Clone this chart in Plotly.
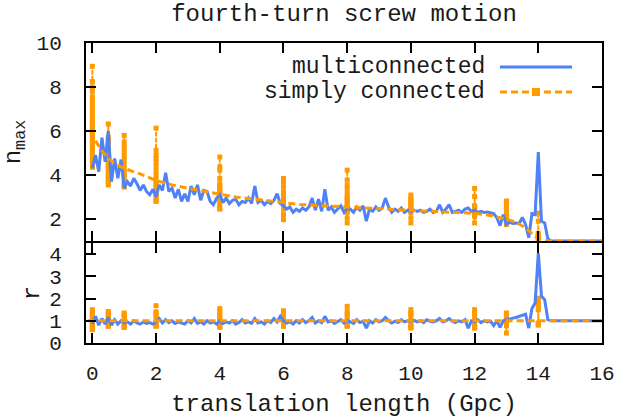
import plotly.graph_objects as go

# ---------------- data ----------------
# multiconnected: x grid (Gpc) and values
multi_x = [round(i * 0.1, 1) for i in range(145)] + [16.0]
multi_nmax = [
    4.3, 4.9, 4.15, 5.7, 4.6, 6.0, 3.7, 4.75, 3.85, 4.7,
    3.4, 3.7, 3.5, 3.85, 3.6, 3.3, 3.55, 3.25, 3.1, 3.35,
    3.0, 3.55, 3.3, 4.1, 3.25, 3.4, 2.95, 3.35, 2.8, 3.15,
    2.8, 3.5, 3.1, 3.55, 2.85, 3.3, 3.25, 2.8, 2.65, 2.95,
    3.1, 2.75, 2.95, 2.7, 2.85, 2.9, 2.65, 2.8, 2.75, 2.95,
    2.7, 3.5, 2.75, 2.85, 2.65, 2.8, 2.7, 2.85, 3.15, 2.7,
    2.6, 2.45, 2.55, 2.3, 2.45, 2.35, 2.5, 2.4, 2.55, 2.95,
    2.4, 2.9, 2.35, 3.35, 2.4, 2.55, 2.3, 2.45, 2.6, 2.3,
    2.5, 2.45, 2.3, 2.55, 2.4, 2.6, 1.9, 2.45, 2.35, 2.55,
    2.4, 2.5, 2.95, 2.55, 2.3, 2.45, 2.35, 2.5, 2.3, 2.4,
    2.35, 2.4, 2.35, 2.4, 2.3, 2.35, 2.45, 2.3, 2.35, 2.65,
    2.3, 2.45, 2.65, 2.3, 2.35, 2.4, 2.3, 2.45, 2.5, 2.35,
    2.4, 2.3, 2.35, 2.3, 2.32, 2.3, 2.25, 2.05, 1.7, 2.2,
    1.75, 1.85, 1.8, 1.82, 1.8, 2.07, 1.75, 1.15, 2.25, 2.2,
    5.04, 1.9, 1.82, 1.1, 1.0,
    1.0,
]
multi_r = [
    0.85, 1.2, 0.8, 1.1, 0.85, 1.15, 0.8, 1.05, 0.85, 1.0,
    0.9, 0.95, 0.85, 1.0, 0.9, 0.85, 0.95, 0.88, 0.92, 0.85,
    0.95, 1.1, 0.9, 1.05, 0.92, 1.0, 0.88, 0.95, 0.9, 0.85,
    1.0, 0.9, 1.1, 0.88, 0.95, 0.85, 1.0, 0.9, 0.95, 0.85,
    1.0, 0.88, 0.95, 0.9, 1.0, 0.85, 0.92, 1.05, 0.9, 0.95,
    0.88, 1.1, 0.9, 0.95, 0.85, 1.0, 0.92, 1.1, 0.95, 1.2,
    1.0, 0.9, 0.95, 0.85, 1.0, 0.9, 1.05, 0.92, 1.0, 1.15,
    0.9, 1.0, 0.92, 1.2, 0.95, 1.0, 0.88, 0.95, 1.05, 0.9,
    1.0, 0.95, 0.88, 1.05, 0.92, 0.98, 0.67, 1.0, 0.9, 1.05,
    0.95, 1.0, 1.15, 1.0, 0.9, 0.98, 0.92, 1.05, 0.95, 1.0,
    0.98, 1.02, 0.95, 1.0, 0.92, 1.05, 0.98, 0.95, 1.0, 1.1,
    0.95, 1.0, 1.1, 0.98, 0.92, 1.0, 0.95, 1.05, 0.67, 1.0,
    0.95, 1.05, 0.92, 1.0, 0.95, 0.98, 0.78, 1.0, 0.7, 1.0,
    1.05, 1.1, 1.12, 1.15, 1.2, 1.25, 1.3, 0.67, 1.55, 1.8,
    4.05, 2.1, 1.95, 1.05, 1.0,
    1.0,
]

# simply connected: mean curve
simple_curve_x = [0.1, 0.3, 0.5, 0.8, 1.0, 1.5, 2.0, 2.5, 3.0, 3.5, 4.0, 4.5, 5.0, 5.5,
                  6.0, 6.5, 7.0, 7.5, 8.0, 8.5, 9.0, 9.5, 10.0, 10.5, 11.0, 11.5,
                  12.0, 12.5, 13.0, 13.3, 13.6, 13.8, 14.0, 14.3, 16.0]
simple_curve_nmax = [5.55, 5.1, 4.75, 4.45, 4.3, 4.05, 3.75, 3.55, 3.4, 3.27, 3.12, 3.0, 2.92, 2.83,
                     2.72, 2.66, 2.62, 2.58, 2.55, 2.5, 2.46, 2.43, 2.39, 2.36, 2.32, 2.3,
                     2.26, 2.16, 2.0, 1.85, 1.6, 1.35, 1.1, 1.0, 1.0]
simple_curve_r_x = [-0.15, 16.0]
simple_curve_r = [1.0, 1.0]

# simply connected: individual samples at selected translation lengths
sample_x = [0.0, 0.5, 1.0, 2.0, 4.0, 6.0, 8.0, 10.0, 12.0, 13.0, 14.0]
sample_nmax = [
    [6.1, 7.4, 5.5, 8.0, 6.3, 4.7, 6.85, 5.2, 7.8, 6.0, 4.35, 6.55, 8.94, 5.85,
     7.0, 5.05, 6.2, 4.9, 7.55, 5.95, 6.7, 5.35, 8.25, 6.4, 4.55, 7.2, 5.75, 5.6],
    [4.5, 5.6, 3.7, 6.32, 4.1, 5.2, 3.9, 4.8, 5.72, 4.3, 3.55, 5.0, 4.6, 3.8, 5.4, 4.0, 4.9, 3.65, 4.4],
    [4.3, 5.8, 3.6, 5.1, 4.0, 5.5, 3.45, 4.7, 3.9, 5.3, 4.5, 3.7, 4.9, 4.1, 3.5],
    [3.6, 6.13, 3.2, 4.6, 2.85, 4.2, 3.5, 5.12, 3.0, 4.0, 3.35, 4.9, 2.8, 3.8, 4.75, 3.1, 4.4, 3.7],
    [3.2, 4.82, 2.9, 3.6, 2.5, 4.37, 3.0, 3.4, 4.22, 2.7, 3.84, 3.1, 2.45, 3.5, 2.8, 3.3],
    [2.8, 3.84, 2.5, 3.1, 1.97, 3.47, 2.65, 2.95, 2.2, 3.69, 2.45, 3.24, 2.7, 2.9],
    [2.6, 4.22, 2.3, 3.0, 1.82, 3.77, 2.5, 2.8, 2.05, 3.54, 2.4, 3.17, 2.7, 3.39, 2.35, 2.9],
    [2.5, 3.09, 2.3, 2.8, 1.82, 2.94, 2.4, 2.65, 2.05, 2.55, 2.85, 2.35, 2.7],
    [2.3, 3.39, 2.15, 2.6, 1.82, 3.02, 2.4, 2.2, 2.55, 2.35, 2.5, 2.12],
    [2.3, 2.82, 2.0, 2.6, 1.75, 2.4, 1.9, 2.7, 2.15, 2.5, 1.95],
    [1.2, 2.27, 1.1, 1.35, 1.9, 1.05, 1.3, 1.15, 1.25],
]
sample_r = [
    [1.0, 1.5, 0.7, 1.3, 0.6, 1.2, 0.8, 1.4, 0.9, 1.1, 0.65, 1.25, 0.85],
    [1.0, 1.42, 0.75, 1.3, 0.8, 1.2, 0.9, 1.35, 0.78, 1.1],
    [1.0, 1.35, 0.72, 1.25, 0.8, 1.15, 0.7, 1.3, 0.9],
    [1.0, 1.4, 0.75, 1.68, 0.8, 1.25, 0.9, 1.35, 0.78, 1.1],
    [1.0, 1.55, 0.7, 1.3, 0.8, 1.45, 0.75, 1.2, 0.9, 1.1],
    [1.0, 1.45, 0.75, 1.3, 0.8, 1.2, 0.78, 1.35, 0.9],
    [1.0, 1.65, 0.75, 1.3, 0.8, 1.42, 0.78, 1.2, 0.9],
    [1.0, 1.5, 0.67, 1.3, 0.75, 1.2, 0.7, 1.35, 0.85],
    [1.0, 1.5, 0.7, 1.3, 0.75, 1.2, 0.67, 1.35, 0.85],
    [1.0, 1.35, 0.8, 1.2, 0.45, 1.1, 0.78, 1.25, 0.9],
    [1.6, 2.02, 0.85, 1.75, 0.8, 1.9, 0.9, 1.5],
]

x_ticks = [0, 2, 4, 6, 8, 10, 12, 14, 16]
nmax_ticks = [2, 4, 6, 8, 10]
r_ticks = [0, 1, 2, 3, 4]
legend_labels = ["multiconnected", "simply connected"]

# ---------------- style ----------------
BLUE = "#4f82f7"
ORANGE = "#ff9a00"
FONT = "Liberation Mono, Courier New, monospace"
TXT = "#1a1a1a"
SAMPLE_LINE = dict(color=ORANGE, width=2, dash="4px,2px")
SAMPLE_MARK = dict(symbol="square", size=5, color=ORANGE)
MEAN_LINE = dict(color=ORANGE, width=3, dash="7px,4px")


def flatten(xs, groups):
    fx, fy = [], []
    for xv, g in zip(xs, groups):
        fx += [xv] * len(g) + [None]
        fy += list(g) + [None]
    return fx, fy


fig = go.Figure()

# top panel (n_max)
sx, sy = flatten(sample_x, sample_nmax)
fig.add_trace(go.Scatter(x=sx, y=sy, xaxis="x2", yaxis="y2", mode="lines+markers",
                         line=SAMPLE_LINE, marker=SAMPLE_MARK, connectgaps=False, showlegend=False))
fig.add_trace(go.Scatter(x=multi_x, y=multi_nmax, xaxis="x2", yaxis="y2", mode="lines",
                         line=dict(color=BLUE, width=3), showlegend=False))
fig.add_trace(go.Scatter(x=simple_curve_x, y=simple_curve_nmax, xaxis="x2", yaxis="y2",
                         mode="lines", line=MEAN_LINE, showlegend=False))

# bottom panel (r)
sx, sy = flatten(sample_x, sample_r)
fig.add_trace(go.Scatter(x=sx, y=sy, xaxis="x", yaxis="y", mode="lines+markers",
                         line=SAMPLE_LINE, marker=SAMPLE_MARK, connectgaps=False, showlegend=False))
fig.add_trace(go.Scatter(x=multi_x, y=multi_r, xaxis="x", yaxis="y", mode="lines",
                         line=dict(color=BLUE, width=3), showlegend=False))
fig.add_trace(go.Scatter(x=simple_curve_r_x, y=simple_curve_r, xaxis="x", yaxis="y",
                         mode="lines", line=MEAN_LINE, showlegend=False))

axis_common = dict(showline=True, linecolor="black", linewidth=2, mirror="allticks",
                   ticks="inside", ticklen=10, tickwidth=1.5, tickcolor="black",
                   showgrid=False, zeroline=False, automargin=False,
                   tickfont=dict(family=FONT, size=21, color=TXT))

top_bottom = 1 / 3 + 2 / 300   # nudge so the two shared borders coincide

fig.update_layout(
    width=626, height=418,
    margin=dict(l=86, r=24, t=43, b=75, autoexpand=False),
    paper_bgcolor="white", plot_bgcolor="white",
    font=dict(family=FONT, color=TXT),
    title=dict(text="fourth-turn screw motion", x=86 / 626 + 516 / 626 / 2, xanchor="center",
               y=1 - 13 / 418, yanchor="middle", yref="container", automargin=False,
               font=dict(family=FONT, size=24, color=TXT)),
    xaxis=dict(range=[-0.2, 16], tickvals=x_ticks, anchor="y", domain=[0, 1],
               ticklabelstandoff=10,
               title=dict(text="translation length (Gpc)", standoff=10,
                          font=dict(family=FONT, size=24, color=TXT)),
               **axis_common),
    xaxis2=dict(range=[-0.2, 16], tickvals=x_ticks, anchor="y2", matches="x",
                showticklabels=False, **axis_common),
    yaxis=dict(range=[0, 4.5], tickvals=r_ticks, domain=[0, 1 / 3], anchor="x",
               ticklabelstandoff=18,
               title=dict(text="r", standoff=3, font=dict(family=FONT, size=24, color=TXT)),
               **axis_common),
    yaxis2=dict(range=[1, 10], tickvals=nmax_ticks, domain=[top_bottom, 1], anchor="x2",
                ticklabelstandoff=18,
                title=dict(text="n<sub>max</sub>", standoff=16,
                           font=dict(family=FONT, size=24, color=TXT)),
                **axis_common),
    showlegend=False,
)

# gnuplot-style key (text on the left, sample on the right)
def px_x(p):
    return (p - 86) / 516


def px_y(p):
    return 1 - (p - 43) / 300


key_y = [px_y(67), px_y(92)]
for label, ky, line in zip(legend_labels, key_y,
                           [dict(color=BLUE, width=3), MEAN_LINE]):
    fig.add_annotation(x=px_x(487), y=ky, xref="paper", yref="paper", text=label,
                       showarrow=False, xanchor="right", yanchor="middle",
                       font=dict(family=FONT, size=23, color=TXT))
    fig.add_shape(type="line", xref="paper", yref="paper", x0=px_x(500), x1=px_x(572),
                  y0=ky, y1=ky, line=line)
fig.add_shape(type="rect", xref="paper", yref="paper", xsizemode="pixel", ysizemode="pixel",
              xanchor=px_x(536), yanchor=key_y[1], x0=-4, x1=4, y0=-4, y1=4,
              fillcolor=ORANGE, line=dict(width=0))

fig.write_html("out.html", config={"displayModeBar": False},
               post_script="document.body.style.margin='0';document.body.style.padding='0';")
